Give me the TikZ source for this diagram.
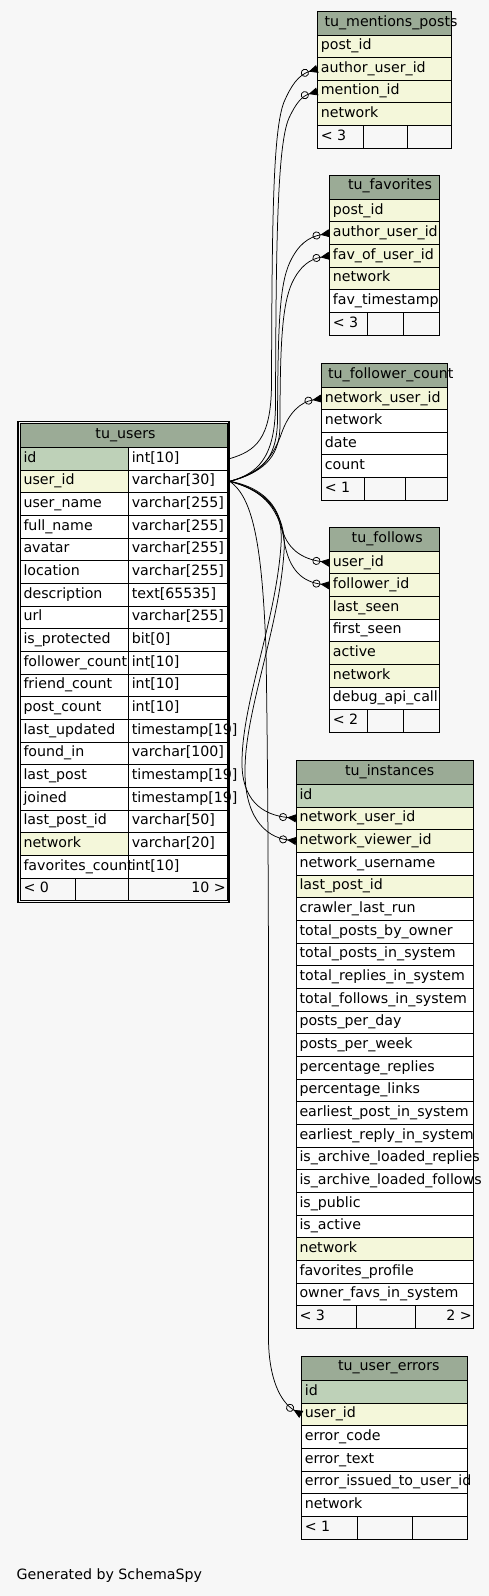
\documentclass[tikz,border=0pt]{standalone}
\usepackage{fontspec}
\setmainfont{DejaVu Sans}
\usetikzlibrary{arrows.meta}
\definecolor{bgc}{HTML}{F7F7F7}
\definecolor{hdr}{HTML}{9BAB96}
\definecolor{pkc}{HTML}{BED1B8}
\definecolor{idx}{HTML}{F4F7DA}
\newcommand{\tblfont}{\fontsize{14.2pt}{17pt}\selectfont}
\newcommand{\cbox}[6]{\node[cellbox, fill=#6, minimum width=#4pt, minimum height=#5pt] (#1) at (#2,#3) {};}
\newcommand{\ctxt}[2]{\node[celltext] (#1-t) at ([xshift=3.5pt,yshift=-14.7pt]#1.north west) {#2};}
\newcommand{\ctxtr}[2]{\node[celltext, anchor=base east] (#1-t) at ([xshift=-1.5pt,yshift=-14.7pt]#1.north east) {#2};}
\newcommand{\thead}[7]{\node[cellbox, fill=hdr, minimum width=#4pt, minimum height=#5pt] (#1) at (#2,#3) {};
  \node[hdrtext] (#1-t) at (#6,#3+14.8) {#7};}
\begin{document}
\begin{tikzpicture}[x=1pt,y=-1pt,
  cellbox/.style={draw=black, line width=0.9pt, anchor=north west, inner sep=0pt, outer sep=0pt, rectangle},
  celltext/.style={anchor=base west, inner sep=0pt, outer sep=0pt, font=\tblfont, text=black},
  hdrtext/.style={anchor=base, inner sep=0pt, outer sep=0pt, font=\tblfont, text=black},
  fk/.style={line width=0.75pt, -{Circle[open,length=8pt,width=8pt] Triangle[reversed,length=9pt,width=8pt]}}
]
\fill[bgc] (0,0) rectangle (489,1596);
\useasboundingbox (0,0) rectangle (489,1596);

% ---------- tu_mentions_posts
\thead{mp-h}{317.3}{11.7}{134}{23.3}{391}{tu\_mentions\_posts}
\foreach \nm/\fl [count=\i from 0] in {post\_id/idx, author\_user\_id/idx, mention\_id/idx, network/idx}{
  \cbox{mp-r\i}{317.3}{35+\i*22.6}{134}{22.6}{\fl}
  \ctxt{mp-r\i}{\nm}
}
\cbox{mp-f1}{317.3}{125.4}{46}{22.6}{bgc}
\cbox{mp-f2}{363.3}{125.4}{44}{22.6}{bgc}
\cbox{mp-f3}{407.3}{125.4}{44}{22.6}{bgc}
\ctxt{mp-f1}{< 3}

% ---------- tu_favorites
\thead{fv-h}{329.3}{175}{110}{24.3}{390}{tu\_favorites}
\foreach \nm/\fl [count=\i from 0] in {post\_id/idx, author\_user\_id/idx, fav\_of\_user\_id/idx, network/idx, fav\_timestamp/white}{
  \cbox{fv-r\i}{329.3}{199.3+\i*22.62}{110}{22.62}{\fl}
  \ctxt{fv-r\i}{\nm}
}
\cbox{fv-f1}{329.3}{312.4}{38.4}{22.62}{bgc}
\cbox{fv-f2}{367.7}{312.4}{36}{22.62}{bgc}
\cbox{fv-f3}{403.7}{312.4}{35.6}{22.62}{bgc}
\ctxt{fv-f1}{< 3}

% ---------- tu_follower_count
\thead{fc-h}{321.3}{363.3}{126}{24}{390.8}{tu\_follower\_count}
\foreach \nm/\fl [count=\i from 0] in {network\_user\_id/idx, network/white, date/white, count/white}{
  \cbox{fc-r\i}{321.3}{387.3+\i*22.54}{126}{22.54}{\fl}
  \ctxt{fc-r\i}{\nm}
}
\cbox{fc-f1}{321.3}{477.46}{43}{22.54}{bgc}
\cbox{fc-f2}{364.3}{477.46}{41}{22.54}{bgc}
\cbox{fc-f3}{405.3}{477.46}{42}{22.54}{bgc}
\ctxt{fc-f1}{< 1}

% ---------- tu_follows
\thead{fo-h}{329.3}{527.3}{110}{24}{387.2}{tu\_follows}
\foreach \nm/\fl [count=\i from 0] in {user\_id/idx, follower\_id/idx, last\_seen/idx, first\_seen/white, active/idx, network/idx, debug\_api\_call/white}{
  \cbox{fo-r\i}{329.3}{551.3+\i*22.625}{110}{22.625}{\fl}
  \ctxt{fo-r\i}{\nm}
}
\cbox{fo-f1}{329.3}{709.675}{38}{22.625}{bgc}
\cbox{fo-f2}{367.3}{709.675}{36.4}{22.625}{bgc}
\cbox{fo-f3}{403.7}{709.675}{35.6}{22.625}{bgc}
\ctxt{fo-f1}{< 2}

% ---------- tu_users
\thead{us-h}{20}{423.3}{207.3}{24}{125.5}{tu\_users}
\foreach \nm/\fl/\ty [count=\i from 0] in {id/pkc/int[10], user\_id/idx/varchar[30], user\_name/white/varchar[255], full\_name/white/varchar[255], avatar/white/varchar[255], location/white/varchar[255], description/white/text[65535], url/white/varchar[255], is\_protected/white/bit[0], follower\_count/white/int[10], friend\_count/white/int[10], post\_count/white/int[10], last\_updated/white/timestamp[19], found\_in/white/varchar[100], last\_post/white/timestamp[19], joined/white/timestamp[19], last\_post\_id/white/varchar[50], network/idx/varchar[20], favorites\_count/white/int[10]}{
  \cbox{us-a\i}{20}{447.3+\i*22.67}{108.3}{22.67}{\fl}
  \cbox{us-b\i}{128.3}{447.3+\i*22.67}{99}{22.67}{white}
  \ctxt{us-a\i}{\nm}
  \ctxt{us-b\i}{\ty}
}
\cbox{us-f1}{20}{878.03}{55.3}{22.67}{bgc}
\cbox{us-f2}{75.3}{878.03}{53}{22.67}{bgc}
\cbox{us-f3}{128.3}{878.03}{99}{22.67}{bgc}
\ctxt{us-f1}{< 0}
\ctxtr{us-f3}{10 >}
\draw[line width=1.6pt] (18.2,421.5) rectangle (229.1,902.5);

% ---------- tu_instances
\thead{in-h}{296}{760.7}{177.3}{23.6}{389.7}{tu\_instances}
\foreach \nm/\fl [count=\i from 0] in {id/pkc, network\_user\_id/idx, network\_viewer\_id/idx, network\_username/white, last\_post\_id/idx, crawler\_last\_run/white, total\_posts\_by\_owner/white, total\_posts\_in\_system/white, total\_replies\_in\_system/white, total\_follows\_in\_system/white, posts\_per\_day/white, posts\_per\_week/white, percentage\_replies/white, percentage\_links/white, earliest\_post\_in\_system/white, earliest\_reply\_in\_system/white, is\_archive\_loaded\_replies/white, is\_archive\_loaded\_follows/white, is\_public/white, is\_active/white, network/idx, favorites\_profile/white, owner\_favs\_in\_system/white}{
  \cbox{in-r\i}{296}{784.3+\i*22.667}{177.3}{22.667}{\fl}
  \ctxt{in-r\i}{\nm}
}
\cbox{in-f1}{296}{1305.64}{60.3}{22.667}{bgc}
\cbox{in-f2}{356.3}{1305.64}{59.4}{22.667}{bgc}
\cbox{in-f3}{415.7}{1305.64}{57.6}{22.667}{bgc}
\ctxt{in-f1}{< 3}
\ctxtr{in-f3}{2 >}

% ---------- tu_user_errors
\thead{ue-h}{301.3}{1356}{166}{24.3}{388.8}{tu\_user\_errors}
\foreach \nm/\fl [count=\i from 0] in {id/pkc, user\_id/idx, error\_code/white, error\_text/white, error\_issued\_to\_user\_id/white, network/white}{
  \cbox{ue-r\i}{301.3}{1380.3+\i*22.71}{166}{22.71}{\fl}
  \ctxt{ue-r\i}{\nm}
}
\cbox{ue-f1}{301.3}{1516.56}{56}{22.71}{bgc}
\cbox{ue-f2}{357.3}{1516.56}{55}{22.71}{bgc}
\cbox{ue-f3}{412.3}{1516.56}{55}{22.71}{bgc}
\ctxt{ue-f1}{< 1}

% ---------- footer text
\node[celltext] (gen) at (16.7,1579.3) {Generated by SchemaSpy};

% ---------- connectors
\coordinate (uidk) at ([xshift=2.5pt]us-b0.east);
\coordinate (uid) at ([xshift=2.5pt]us-b1.east);
\draw[fk] (uidk) .. controls (255,451) and (271,440) .. (271.5,385) .. controls (272,220) and (273,130) .. (284,102) .. controls (291,86) and (298,75) .. (mp-r1.west);
\draw[fk] (uid) .. controls (256,474) and (275,460) .. (275.5,405) .. controls (276,250) and (277,145) .. (289,118) .. controls (296,103) and (302,96) .. (mp-r2.west);
\draw[fk] (uid) .. controls (258,474) and (277,462) .. (277.5,420) .. controls (278,330) and (279,285) .. (290,262) .. controls (298,245) and (308,237) .. (fv-r1.west);
\draw[fk] (uid) .. controls (260,473) and (280,460) .. (280,425) .. controls (280,345) and (282,305) .. (292,283) .. controls (300,266) and (310,259) .. (fv-r2.west);
\draw[fk] (uid) .. controls (262,473) and (274,455) .. (282,432) .. controls (289,413) and (300,402) .. (fc-r0.west);
\draw[fk] (uid) .. controls (256,486) and (276,500) .. (281,525) .. controls (286,549) and (302,559) .. (fo-r0.west);
\draw[fk] (uid) .. controls (259,488) and (279,506) .. (284,540) .. controls (289,572) and (304,582) .. (fo-r1.west);
\draw[fk] (uid) .. controls (262,490) and (284,505) .. (281,545) .. controls (276,620) and (243,700) .. (242,760) .. controls (241,800) and (262,815) .. (in-r1.west);
\draw[fk] (uid) .. controls (265,491) and (287,512) .. (284,552) .. controls (279,628) and (246,708) .. (245,768) .. controls (244,815) and (264,837) .. (in-r2.west);
\draw[fk] (uid) .. controls (252,497) and (262,540) .. (266,650) .. controls (270,900) and (268,1200) .. (268.5,1340) .. controls (269,1378) and (280,1402) .. (ue-r1.west);
\end{tikzpicture}
\end{document}
